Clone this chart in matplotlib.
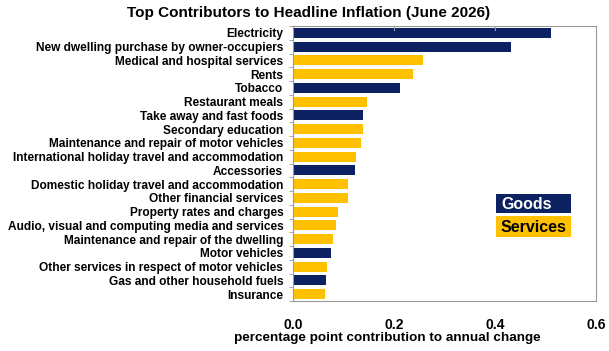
import matplotlib
matplotlib.use("Agg")
import matplotlib.pyplot as plt
from matplotlib.patches import Rectangle
import numpy as np

plt.rcParams['font.family'] = ['Liberation Sans', 'DejaVu Sans']

categories = [
    "Electricity",
    "New dwelling purchase by owner-occupiers",
    "Medical and hospital services",
    "Rents",
    "Tobacco",
    "Restaurant meals",
    "Take away and fast foods",
    "Secondary education",
    "Maintenance and repair of motor vehicles",
    "International holiday travel and accommodation",
    "Accessories",
    "Domestic holiday travel and accommodation",
    "Other financial services",
    "Property rates and charges",
    "Audio, visual and computing media and services",
    "Maintenance and repair of the dwelling",
    "Motor vehicles",
    "Other services in respect of motor vehicles",
    "Gas and other household fuels",
    "Insurance",
]
values = [0.511, 0.432, 0.258, 0.237, 0.212, 0.146, 0.139, 0.138, 0.135, 0.125,
          0.123, 0.108, 0.109, 0.090, 0.085, 0.080, 0.075, 0.067, 0.065, 0.064]
kinds = ["Goods", "Goods", "Services", "Services", "Goods", "Services", "Goods",
         "Services", "Services", "Services", "Goods", "Services", "Services",
         "Services", "Services", "Services", "Goods", "Services", "Goods", "Services"]
xticks = [0.0, 0.2, 0.4, 0.6]

NAVY = "#0B2161"
GOLD = "#FFC000"
colors = {"Goods": NAVY, "Services": GOLD}

W, H = 609, 351
fig = plt.figure(figsize=(W/100, H/100), dpi=100)
ax = fig.add_axes([293/W, 1-301/H, (596-293)/W, (301-26)/H])

y = np.arange(len(categories))
ax.barh(y, values, height=0.72, color=[colors[k] for k in kinds], zorder=2)
ax.set_ylim(len(categories)-0.5, -0.5)
ax.set_xlim(0, 0.6)
ax.set_yticks(y)
ax.set_yticklabels(categories, fontsize=8.55, fontweight='bold')
ax.set_yticks(np.arange(-0.5, len(categories), 1), minor=True)
ax.tick_params(axis='y', which='major', length=0, pad=7)
ax.tick_params(axis='y', which='minor', length=3, color='#999999', direction='out')
ax.set_xticks(xticks)
ax.set_xticklabels([f"{t:.1f}" for t in xticks], fontsize=10, fontweight='bold')
ax.tick_params(axis='x', length=0, pad=12)
for t in [0.2, 0.4]:
    ax.plot([t, t], [-0.5, -0.2], color='#999999', lw=0.8, zorder=3)
for s in ax.spines.values():
    s.set_color('#999999')
    s.set_linewidth(0.8)

fig.text(309/W, 1-13/H, "Top Contributors to Headline Inflation (June 2026)",
         ha='center', va='center', fontsize=11, fontweight='bold')
fig.text(387/W, 1-338/H, "percentage point contribution to annual change",
         ha='center', va='center', fontsize=9.7, fontweight='bold')

# legend boxes
fig.add_artist(Rectangle((496/W, 1-213/H), 75/W, 19/H, transform=fig.transFigure,
                         fc=NAVY, ec='none'))
fig.add_artist(Rectangle((496/W, 1-237/H), 75/W, 21/H, transform=fig.transFigure,
                         fc=GOLD, ec='none'))
fig.text(501/W, 1-204/H, "Goods", ha='left', va='center', fontsize=11.5,
         fontweight='bold', color='white')
fig.text(501/W, 1-227/H, "Services", ha='left', va='center', fontsize=11.5,
         fontweight='bold', color='black')

fig.savefig("out.png", dpi=100)
